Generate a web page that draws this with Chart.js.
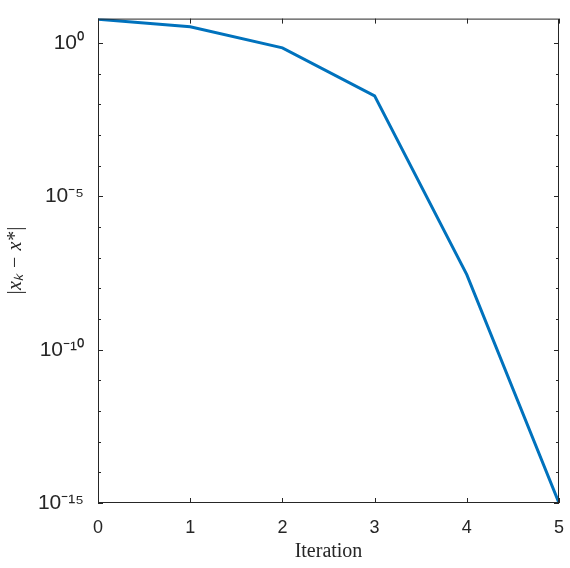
<!DOCTYPE html>
<html>
<head>
<meta charset="utf-8">
<script src="https://cdn.jsdelivr.net/npm/chart.js@4/dist/chart.umd.min.js"></script>
<style>
html,body{margin:0;padding:0;background:#fff;}
#wrap{width:570px;height:568px;}
</style>
</head>
<body>
<div id="wrap"><canvas id="c"></canvas></div>
<script>
var iterations = [0, 1, 2, 3, 4, 5];
var errors = [6.0, 3.4, 0.7, 1.9e-2, 2.8e-8, 1e-15];
var yTicks = [1e-15, 1e-10, 1e-5, 1e0];
var yTickLabels = ['10⁻¹⁵', '10⁻¹⁰', '10⁻⁵', '10⁰'];

var boxPlugin = {
	id: 'box',
	afterDraw: function(chart){
		var a = chart.chartArea, ctx = chart.ctx;
		ctx.save();
		ctx.strokeStyle = '#262626';
		ctx.lineWidth = 1;
		ctx.strokeRect(a.left + 0.5, a.top + 0.5, a.right - a.left - 1, a.bottom - a.top - 1);
		var xs = chart.scales.x, ys = chart.scales.y;
		ctx.beginPath();
		iterations.forEach(function(v){
			var px = Math.round(xs.getPixelForValue(v)) + 0.5;
			ctx.moveTo(px, a.bottom); ctx.lineTo(px, a.bottom - 5);
			ctx.moveTo(px, a.top); ctx.lineTo(px, a.top + 5);
		});
		for (var e = -15; e <= 0; e++) {
			var py = Math.round(ys.getPixelForValue(Math.pow(10, e))) + 0.5;
			var len = (e % 5 === 0) ? 5 : 3;
			ctx.moveTo(a.left, py); ctx.lineTo(a.left + len, py);
			ctx.moveTo(a.right, py); ctx.lineTo(a.right - len, py);
		}
		ctx.stroke();
		ctx.restore();
	}
};

new Chart(document.getElementById('c'), {
	type: 'line',
	data: {
		datasets: [{
			data: iterations.map(function(x, i){ return {x: x, y: errors[i]}; }),
			borderColor: '#0072BD',
			borderWidth: 3,
			pointRadius: 0,
			tension: 0
		}]
	},
	options: {
		responsive: true,
		maintainAspectRatio: false,
		animation: false,
		layout: {padding: {top: -13, right: -2, left: 0, bottom: 0}},
		plugins: {legend: {display: false}, tooltip: {enabled: false}},
		scales: {
			x: {
				type: 'linear', min: 0, max: 5,
				grid: {display: false},
				border: {display: false},
				ticks: {stepSize: 1, color: '#262626', font: {family: 'Liberation Sans', size: 18}, padding: 6},
				title: {display: true, text: 'Iteration', color: '#262626', font: {family: 'Liberation Serif', size: 20}, padding: {top: 0}},
				afterFit: function(s){ s.height = 65; }
			},
			y: {
				type: 'logarithmic', min: 1e-15, max: Math.pow(10, 0.8),
				grid: {display: false},
				border: {display: false},
				afterBuildTicks: function(s){ s.ticks = yTicks.map(function(v){ return {value: v}; }); },
				ticks: {
					color: '#262626', font: {family: 'Liberation Sans', size: 21}, padding: 6,
					callback: function(v){ var i = yTicks.indexOf(v); return i >= 0 ? yTickLabels[i] : ''; }
				},
				title: {display: true, text: '|x\u2096 − x*|', color: '#262626', font: {family: 'Liberation Serif', size: 20, style: 'italic'}, padding: {bottom: 4}},
				afterFit: function(s){ s.width = 98; }
			}
		}
	},
	plugins: [boxPlugin]
});
</script>
</body>
</html>
